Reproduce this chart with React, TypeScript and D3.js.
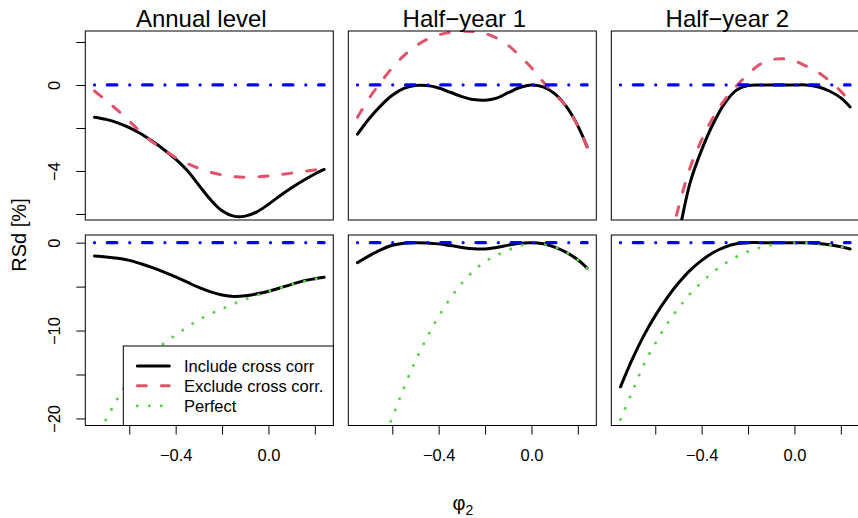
import { useEffect, useRef } from "react";
import * as d3 from "d3";

// phi_2 grid the curves are read on
const PHI = [-0.75, -0.7, -0.65, -0.6, -0.55, -0.5, -0.45, -0.4, -0.35, -0.3, -0.25, -0.2, -0.15, -0.1, -0.05, 0, 0.05, 0.1, 0.15, 0.2, 0.24];

// top row: include vs exclude cross correlation
const ANNUAL_INCLUDE_TOP = [-1.5, -1.6, -1.76, -1.98, -2.27, -2.62, -3.01, -3.45, -3.98, -4.66, -5.33, -5.85, -6.1, -6.1, -5.9, -5.55, -5.15, -4.78, -4.44, -4.14, -3.93];
const ANNUAL_EXCLUDE_TOP = [-0.28, -0.72, -1.18, -1.68, -2.2, -2.65, -3.02, -3.38, -3.65, -3.88, -4.06, -4.18, -4.26, -4.29, -4.27, -4.23, -4.17, -4.1, -4.02, -3.95, -3.88];
const H1_INCLUDE_TOP = [-2.29, -1.57, -0.97, -0.48, -0.16, -0.02, -0.03, -0.14, -0.34, -0.54, -0.68, -0.71, -0.61, -0.36, -0.12, 0, -0.09, -0.4, -1.0, -1.9, -2.88];
const H1_EXCLUDE_TOP = [-1.5, -0.62, 0.12, 0.8, 1.36, 1.8, 2.12, 2.33, 2.45, 2.5, 2.48, 2.39, 2.18, 1.84, 1.35, 0.8, 0.15, -0.42, -1.0, -1.9, -2.88];
const H2_INCLUDE_TOP = [-19.5, -17, -14.5, -12, -9.5, -7.0, -4.55, -3.02, -1.79, -0.84, -0.24, -0.03, 0, 0, 0, 0, 0, -0.08, -0.28, -0.6, -1.02];
const H2_EXCLUDE_TOP = [-19.2, -16, -13, -10.3, -7.9, -5.7, -3.85, -2.55, -1.5, -0.68, -0.05, 0.5, 0.95, 1.17, 1.22, 1.12, 0.88, 0.6, 0.2, -0.3, -0.78];

// bottom row: include vs perfect
const ANNUAL_INCLUDE_BOTTOM = [-1.51, -1.62, -1.78, -2.02, -2.4, -2.85, -3.35, -3.9, -4.5, -5.1, -5.6, -5.95, -6.12, -6.05, -5.82, -5.52, -5.15, -4.75, -4.35, -4.1, -3.93];
const ANNUAL_PERFECT_BOTTOM = [-22.6, -20.1, -17.7, -15.6, -13.9, -12.5, -11.45, -10.5, -9.6, -8.77, -8.1, -7.52, -6.95, -6.45, -6.0, -5.52, -5.15, -4.78, -4.42, -4.14, -3.93];
const H1_INCLUDE_BOTTOM = [-2.27, -1.5, -0.82, -0.3, -0.06, 0, -0.03, -0.14, -0.33, -0.54, -0.7, -0.72, -0.55, -0.28, -0.06, 0, -0.12, -0.5, -1.1, -1.95, -2.9];
const H1_PERFECT_BOTTOM = [-32, -27.5, -23.3, -19.9, -16.5, -13.45, -10.75, -8.4, -6.35, -4.6, -3.22, -2.15, -1.45, -0.85, -0.35, -0.02, -0.14, -0.5, -1.1, -1.95, -2.9];
const H2_INCLUDE_BOTTOM = [-16.4, -13.3, -10.6, -8.3, -6.3, -4.6, -3.15, -2.02, -1.12, -0.5, -0.12, 0, 0, 0, 0, 0, -0.02, -0.1, -0.25, -0.47, -0.72];
const H2_PERFECT_BOTTOM = [-20.1, -17.0, -13.9, -11.45, -9.3, -7.45, -5.83, -4.5, -3.33, -2.38, -1.6, -0.99, -0.58, -0.25, -0.07, 0, -0.03, -0.12, -0.28, -0.5, -0.74];

const REFERENCE = PHI.map(() => 0);

const TITLES = ["Annual level", "Half\u2212year 1", "Half\u2212year 2"];
const X_TICKS = [-0.6, -0.4, -0.2, 0, 0.2];
const X_LABELS = [-0.4, 0];
const TOP_Y_DOMAIN = [-6.28, 2.51];
const TOP_Y_TICKS = [2, 0, -2, -4, -6];
const TOP_Y_LABELS = [0, -4];
const BOTTOM_Y_DOMAIN = [-20.8, 0.87];
const BOTTOM_Y_TICKS = [0, -5, -10, -15, -20];
const BOTTOM_Y_LABELS = [0, -10, -20];
const LEGEND_LABELS = ["Include cross corr", "Exclude cross corr.", "Perfect"];

const FONT = "'Liberation Sans', Arial, Helvetica, sans-serif";

const STYLES = {
  include: { color: "#000000", width: 3, dash: null },
  exclude: { color: "#DF536B", width: 3, dash: "9,15" },
  perfect: { color: "#61D04F", width: 3, dash: "0.01,12" },
  reference: { color: "#0000FF", width: 3.2, dash: "0.01,12.8,9.6,12.8" },
};

const PANELS = [
  { row: 0, col: 0, series: [["include", ANNUAL_INCLUDE_TOP], ["exclude", ANNUAL_EXCLUDE_TOP]] },
  { row: 0, col: 1, series: [["include", H1_INCLUDE_TOP], ["exclude", H1_EXCLUDE_TOP]] },
  { row: 0, col: 2, series: [["include", H2_INCLUDE_TOP], ["exclude", H2_EXCLUDE_TOP]] },
  { row: 1, col: 0, series: [["include", ANNUAL_INCLUDE_BOTTOM], ["perfect", ANNUAL_PERFECT_BOTTOM]] },
  { row: 1, col: 1, series: [["include", H1_INCLUDE_BOTTOM], ["perfect", H1_PERFECT_BOTTOM]] },
  { row: 1, col: 2, series: [["include", H2_INCLUDE_BOTTOM], ["perfect", H2_PERFECT_BOTTOM]] },
];

const App = () => {
  const svgRef = useRef(null);

  useEffect(() => {
    const W = 858;
    const H = 518;
    const LEFT0 = 85.3;
    const PANEL_W = 248;
    const GAP_X = 15;
    const ROW_TOP = [31, 235];
    const ROW_BOTTOM = [220, 425.5];

    const svg = d3.select(svgRef.current).attr("width", W).attr("height", H);
    svg.selectAll("*").remove();

    const [lo, hi] = d3.extent(PHI);
    const pad = 0.04 * (hi - lo);
    const x = d3.scaleLinear().domain([lo - pad, hi + pad]).range([0, PANEL_W]);

    const near = (list, v) => list.some((l) => Math.abs(l - v) < 1e-9);

    PANELS.forEach((p, i) => {
      const left = LEFT0 + p.col * (PANEL_W + GAP_X);
      const top = ROW_TOP[p.row];
      const ph = ROW_BOTTOM[p.row] - top;
      const y = d3
        .scaleLinear()
        .domain(p.row === 0 ? TOP_Y_DOMAIN : BOTTOM_Y_DOMAIN)
        .range([ph, 0]);

      const g = svg.append("g").attr("transform", `translate(${left},${top})`);

      g.append("clipPath")
        .attr("id", `clip${i}`)
        .append("rect")
        .attr("width", PANEL_W)
        .attr("height", ph);

      const line = d3
        .line()
        .x((d) => x(d[0]))
        .y((d) => y(d[1]))
        .curve(d3.curveCatmullRom);

      const plotted = [...p.series, ["reference", REFERENCE]];
      const lines = g.append("g").attr("clip-path", `url(#clip${i})`);
      plotted.forEach(([key, values]) => {
        const st = STYLES[key];
        lines
          .append("path")
          .datum(PHI.map((v, j) => [v, values[j]]))
          .attr("d", line)
          .attr("fill", "none")
          .attr("stroke", st.color)
          .attr("stroke-width", st.width)
          .attr("stroke-linecap", "round")
          .attr("stroke-dasharray", st.dash);
      });

      g.append("rect")
        .attr("width", PANEL_W)
        .attr("height", ph)
        .attr("fill", "none")
        .attr("stroke", "#000")
        .attr("stroke-width", 1);

      if (p.row === 0) {
        svg
          .append("text")
          .attr("x", left + PANEL_W / 2 - 8)
          .attr("y", 26.5)
          .attr("text-anchor", "middle")
          .attr("font-size", 24)
          .attr("font-family", FONT)
          .text(TITLES[p.col]);
      }

      if (p.col === 0) {
        const ticks = p.row === 0 ? TOP_Y_TICKS : BOTTOM_Y_TICKS;
        const labels = p.row === 0 ? TOP_Y_LABELS : BOTTOM_Y_LABELS;
        const ga = g
          .append("g")
          .call(
            d3
              .axisLeft(y)
              .tickValues(ticks)
              .tickSize(9)
              .tickFormat((d) => (near(labels, d) ? d3.format("d")(d) : ""))
          );
        ga.select(".domain").remove();
        ga.selectAll(".tick line").attr("stroke", "#000");
        ga.selectAll(".tick text")
          .attr("x", 0)
          .attr("dy", 0)
          .attr("transform", `translate(${60 - LEFT0},0) rotate(-90)`)
          .attr("text-anchor", "middle")
          .attr("font-size", 16.5)
          .attr("font-family", FONT)
          .attr("fill", "#000");
      }

      if (p.row === 1) {
        const gx = g
          .append("g")
          .attr("transform", `translate(0,${ph})`)
          .call(
            d3
              .axisBottom(x)
              .tickValues(X_TICKS)
              .tickSize(9)
              .tickFormat((d) => (near(X_LABELS, d) ? d3.format(".1f")(d) : ""))
          );
        gx.select(".domain").remove();
        gx.selectAll(".tick line").attr("stroke", "#000");
        gx.selectAll(".tick text")
          .attr("y", 35.5)
          .attr("dy", 0)
          .attr("font-size", 16.5)
          .attr("font-family", FONT)
          .attr("fill", "#000");
      }

      // legend sits in the bottom-right corner of the annual bottom panel
      if (p.row === 1 && p.col === 0) {
        const lg = g.append("g");
        lg.append("rect")
          .attr("x", 38)
          .attr("y", 111)
          .attr("width", PANEL_W - 38)
          .attr("height", ph - 111)
          .attr("fill", "#fff")
          .attr("stroke", "#000")
          .attr("stroke-width", 1);
        ["include", "exclude", "perfect"].forEach((key, k) => {
          const st = STYLES[key];
          const ly = 131 + k * 19.85;
          lg.append("line")
            .attr("x1", 52)
            .attr("x2", 84)
            .attr("y1", ly)
            .attr("y2", ly)
            .attr("stroke", st.color)
            .attr("stroke-width", st.width)
            .attr("stroke-linecap", "round")
            .attr("stroke-dasharray", st.dash);
          lg.append("text")
            .attr("x", 98.7)
            .attr("y", ly)
            .attr("dy", "0.36em")
            .attr("font-size", 16.5)
            .attr("font-family", FONT)
            .text(LEGEND_LABELS[k]);
        });
      }
    });

    svg
      .append("text")
      .attr("transform", "translate(26,235) rotate(-90)")
      .attr("text-anchor", "middle")
      .attr("font-size", 20)
      .attr("font-family", FONT)
      .text("RSd [%]");

    const xl = svg
      .append("text")
      .attr("x", 452.5)
      .attr("y", 510)
      .attr("font-family", FONT)
      .attr("font-size", 20);
    xl.append("tspan").text("\u03c6");
    xl.append("tspan").attr("dy", 5).attr("font-size", 14).text("2");
  }, []);

  return (
    <svg
      ref={svgRef}
      style={{ position: "absolute", left: 0, top: 0, background: "#fff" }}
    />
  );
};

export default App;
